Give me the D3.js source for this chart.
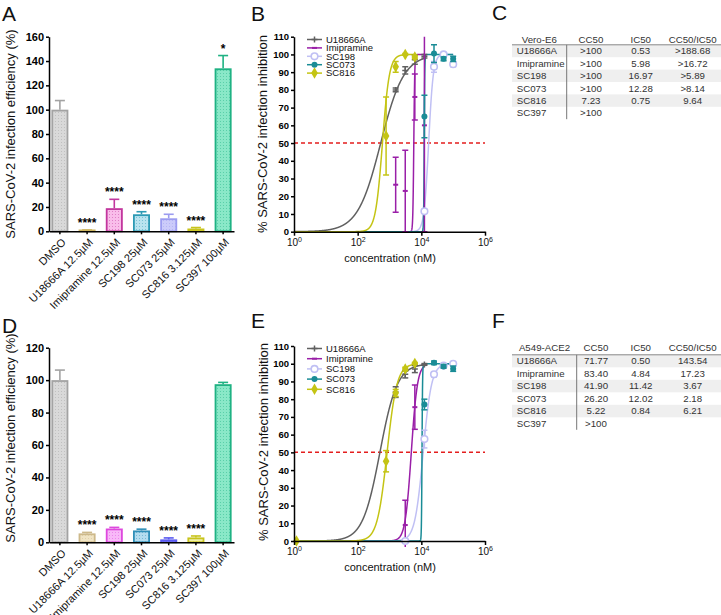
<!DOCTYPE html>
<html><head><meta charset="utf-8">
<script src="https://cdn.jsdelivr.net/npm/d3@7"></script>
<style>body{margin:0;background:#fff} svg, svg text{font-family:"Liberation Sans",Arial,sans-serif}</style>
</head><body><svg id="c" width="721" height="615"></svg>
<script>
// ---------- DATA ----------
const barCategories = ["DMSO","U18666A 12.5µM","Imipramine 12.5µM","SC198 25µM","SC073 25µM","SC816 3.125µM","SC397 100µM"];
const veroValues = [100, 0.8, 19, 14, 10.7, 2.3, 134];
const veroErrors = [7.5, 0.3, 7.3, 2.1, 3.3, 0.8, 10.5];
const veroStars  = ["", "****", "****", "****", "****", "****", "*"];
const a549Values = [100, 5.5, 8.5, 7.3, 1.8, 3.0, 97.5];
const a549Errors = [6.2, 0.6, 0.7, 0.8, 0.9, 0.9, 1.1];
const a549Stars  = ["", "****", "****", "****", "****", "****", ""];
const ticksA = [0,20,40,60,80,100,120,140,160];
const ticksD = [0,20,40,60,80,100,120];

const compounds = ["U18666A","Imipramine","SC198","SC073","SC816"];
const concentrations = [1.2, 781.25, 1562.5, 3125, 6250, 12500, 25000, 50000, 100000];
// Vero-E6 dose response (panel B)
const veroU18666A   = [null, null, 80, 91, 97, 99, null, null, null];
const veroU18666AErr= [0, 0, 1, 2, 2.5, 1, 0, 0, 0];
const veroImip      = [null, null, 26.5, 23, 76, 60, null, null, null];
const veroImipErr   = [0, 0, 15.5, 23, 13, 60, 0, 0, 0];
const veroSC198     = [null, null, null, null, null, 11.5, 93, 100, 94.5];
const veroSC198Err  = [0, 0, 0, 0, 0, 1, 3, 1, 1.5];
const veroSC073     = [null, null, null, null, null, 65, 100.5, 97.5, 97.5];
const veroSC073Err  = [0, 0, 0, 0, 0, 12, 5, 1, 1.5];
const veroSC816     = [null, 54, 93, 100, 98.5, null, null, null, null];
const veroSC816Err  = [0, 22, 3, 0.5, 1, 0, 0, 0, 0];
// A549-ACE2 dose response (panel E)
const a549U18666A   = [null, null, 84, 94, 97, 99.6, null, null, null];
const a549U18666AErr= [0, 0, 3, 2, 2, 0.5, 0, 0, 0];
const a549Imip      = [null, null, null, 9, 75.5, null, null, null, null];
const a549ImipErr   = [0, 0, 0, 14, 12.5, 0, 0, 0, 0];
const a549SC198     = [null, null, null, 0, null, 57.5, 94, 99, 100];
const a549SC198Err  = [0, 0, 0, 0.5, 0, 5, 1.5, 1, 0.5];
const a549SC073     = [null, null, null, null, null, 77, 100.5, 98.5, 97.2];
const a549SC073Err  = [0, 0, 0, 0, 0, 3, 1, 1, 1.5];
const a549SC816     = [0, 45, 83.5, 97, 100.2, null, null, null, null];
const a549SC816Err  = [0, 6, 2, 1, 0.5, 0, 0, 0, 0];
// fitted curve parameters (nM)
const veroFitIC50 = [530, 5800, 16970, 12300, 600];
const veroFitHill = [1.2, 30, 6, 50, 4];
const veroFitEnd  = [12500, 12500, 100000, 100000, 6250];
const a549FitIC50 = [500, 4840, 11420, 10500, 840];
const a549FitHill = [1.6, 4.5, 3.3, 50, 2.8];
const a549FitEnd  = [12500, 12500, 100000, 100000, 6250];
const logTicks = [1, 100, 10000, 1000000];
const inhibitionTicks = [0,10,20,30,40,50,60,70,80,90,100,110];

// tables
const tableRows = ["U18666A","Imipramine","SC198","SC073","SC816","SC397"];
const tableCols = ["CC50","IC50","CC50/IC50"];
const veroCC50 = [">100",">100",">100",">100","7.23",">100"];
const veroIC50 = ["0.53","5.98","16.97","12.28","0.75",""];
const veroSI   = [">188.68",">16.72",">5.89",">8.14","9.64",""];
const a549CC50 = ["71.77","83.40","41.90","26.20","5.22",">100"];
const a549IC50 = ["0.50","4.84","11.42","12.02","0.84",""];
const a549SI   = ["143.54","17.23","3.67","2.18","6.21",""];

// ---------- STYLE ----------
const FONT = "Liberation Sans, Arial, sans-serif";
const strokeA = ["#a3a3a3","#cdb560","#c2369e","#2c9ab4","#9c9cf0","#c8c41c","#1fb283"];
const fillA   = ["#d9d9d9","#eadc9a","#f9bdea","#b9e3ef","#cbcbfa","#ecec96","#8ae8c8"];
const strokeD = ["#a3a3a3","#cdb98a","#de48de","#2f8fb8","#5a5af0","#c8c41c","#1fb283"];
const fillD   = ["#d9d9d9","#f0e4c4","#f8b8f8","#b3dcef","#a6a6fa","#f0f0a8","#8ae8c8"];
const curveColors = ["#606060","#9a1fa8","#c0c0f4","#1a8c96","#c4c414"];

const svg = d3.select("#c");
const defs = svg.append("defs");

function barPanel(id, top, bottom, maxV, ticks, values, errors, stars, fills, strokes){
  const x = d3.scaleBand().domain(barCategories).range([49, 234]).paddingInner(0.375).paddingOuter(0.0875);
  const y = d3.scaleLinear().domain([0, maxV]).range([bottom, top]);
  const g = svg.append("g");
  barCategories.forEach((c,i)=>{
    const p = defs.append("pattern").attr("id", id+"p"+i).attr("patternUnits","userSpaceOnUse").attr("width",3).attr("height",3);
    p.append("rect").attr("width",3).attr("height",3).attr("fill",fills[i]);
    p.append("rect").attr("x",1).attr("y",1).attr("width",1).attr("height",1).attr("fill",strokes[i]).attr("opacity",0.45);
  });
  const bw = x.bandwidth();
  g.selectAll("g.err").data(values).join("g").each(function(v,i){
    const cx = x(barCategories[i]) + bw/2;
    const s = d3.select(this);
    s.append("line").attr("x1",cx).attr("x2",cx).attr("y1",y(v)).attr("y2",y(v+errors[i])).attr("stroke",strokes[i]).attr("stroke-width",1.6);
    s.append("line").attr("x1",cx-5).attr("x2",cx+5).attr("y1",y(v+errors[i])).attr("y2",y(v+errors[i])).attr("stroke",strokes[i]).attr("stroke-width",1.6);
  });
  g.selectAll("rect.bar").data(values).join("rect")
    .attr("x",(v,i)=>x(barCategories[i])+0.9)
    .attr("width",bw-1.8)
    .attr("y",v=>Math.min(y(v)+0.9, bottom-0.9))
    .attr("height",v=>Math.max(0.9, bottom - y(v) - 0.9))
    .attr("fill",(v,i)=>`url(#${id}p${i})`)
    .attr("stroke",(v,i)=>strokes[i]).attr("stroke-width",1.8);
  g.selectAll("text.star").data(values).join("text")
    .attr("x",(v,i)=>x(barCategories[i])+bw/2)
    .attr("y",(v,i)=>y(v+errors[i])-3)
    .attr("text-anchor","middle").attr("font-size",12).attr("font-weight","bold").attr("font-family",FONT)
    .text((v,i)=>stars[i]);
  const ya = g.append("g").attr("transform","translate(49,0)")
    .call(d3.axisLeft(y).tickValues(ticks).tickSize(3).tickPadding(2).tickSizeOuter(0));
  ya.selectAll("text").attr("font-size",11).attr("font-weight","bold").attr("font-family",FONT).attr("fill","#000");
  ya.selectAll("line,path").attr("stroke","#000").attr("stroke-width",1.5);
  const xa = g.append("g").attr("transform",`translate(0,${bottom})`)
    .call(d3.axisBottom(x).tickSize(3).tickSizeOuter(0));
  xa.selectAll("line,path").attr("stroke","#000").attr("stroke-width",1.5);
  xa.selectAll("text").attr("font-size",11).attr("font-family",FONT).attr("fill","#111")
    .attr("text-anchor","end").attr("y",0).attr("dy","0.35em")
    .attr("transform","translate(4,9) rotate(-45)");
}

function curvePanel(id, top, bottom, series, errs, ic50, hill, ends, legendTop, legendStep){
  const x = d3.scaleLog().domain([1, 1e6]).range([294, 485]);
  const y = d3.scaleLinear().domain([0, 110]).range([bottom, top]);
  const g = svg.append("g");
  defs.append("clipPath").attr("id", id+"clip").append("rect")
    .attr("x", 290).attr("y", top).attr("width", 200).attr("height", bottom-top+6);
  const plot = g.append("g").attr("clip-path", `url(#${id}clip)`);
  plot.append("line").attr("x1",x(1)).attr("x2",x(1e6)).attr("y1",y(50)).attr("y2",y(50))
    .attr("stroke","#e41e1e").attr("stroke-width",1.5).attr("stroke-dasharray","4,3");
  const line = d3.line().x(d=>x(d[0])).y(d=>y(d[1]));
  compounds.forEach((c,i)=>{
    const pts = d3.range(0, Math.log10(ends[i])+1e-9, 0.004).map(l=>{
      const cc = Math.pow(10,l); return [cc, 100/(1+Math.pow(ic50[i]/cc, hill[i]))];
    });
    plot.append("path").datum(pts).attr("d",line).attr("fill","none")
      .attr("stroke",curveColors[i]).attr("stroke-width",1.5);
  });
  compounds.forEach((c,i)=>{
    const data = concentrations.map((cc,k)=>({c:cc, v:series[i][k], e:errs[i][k]})).filter(d=>d.v!==null);
    const sg = plot.append("g");
    data.forEach(d=>{
      if(d.e>0){
        const cx = x(d.c);
        sg.append("line").attr("x1",cx).attr("x2",cx).attr("y1",y(d.v-d.e)).attr("y2",y(d.v+d.e)).attr("stroke",curveColors[i]).attr("stroke-width",1.5);
        [d.v-d.e, d.v+d.e].forEach(v=>sg.append("line").attr("x1",cx-3).attr("x2",cx+3).attr("y1",y(v)).attr("y2",y(v)).attr("stroke",curveColors[i]).attr("stroke-width",1.5));
      }
      drawMarker(sg, i, x(d.c), y(d.v));
    });
  });
  const ya = g.append("g").attr("transform","translate(294,0)")
    .call(d3.axisLeft(y).tickValues(inhibitionTicks).tickSize(3).tickPadding(2).tickSizeOuter(0));
  ya.selectAll("text").attr("font-size",9.5).attr("font-weight","bold").attr("font-family",FONT).attr("fill","#000");
  ya.selectAll("line,path").attr("stroke","#000").attr("stroke-width",1.5);
  const xa = g.append("g").attr("transform",`translate(0,${bottom})`)
    .call(d3.axisBottom(x).tickValues(logTicks).tickSize(4).tickPadding(3).tickSizeOuter(0).tickFormat(""));
  xa.selectAll("line,path").attr("stroke","#000").attr("stroke-width",1.5);
  xa.selectAll(".tick").each(function(d){
    const t = d3.select(this).append("text").attr("y",7).attr("dy","0.71em").attr("font-size",10)
      .attr("font-family",FONT).attr("fill","#111").attr("text-anchor","middle");
    t.append("tspan").text("10");
    t.append("tspan").attr("dy","-4").attr("font-size",7).text(Math.round(Math.log10(d)));
  });
  g.append("text").attr("x",390).attr("y",bottom+30).attr("text-anchor","middle").attr("font-family",FONT)
    .attr("font-size",11).attr("fill","#111").text("concentration (nM)");
  compounds.forEach((c,i)=>{
    const ly = legendTop + i*legendStep;
    g.append("line").attr("x1",307).attr("x2",322).attr("y1",ly).attr("y2",ly).attr("stroke",curveColors[i]).attr("stroke-width",1.5);
    drawMarker(g, i, 314.5, ly);
    g.append("text").attr("x",326).attr("y",ly).attr("dy","0.35em").attr("font-size",9.5).attr("font-family",FONT).attr("fill","#111").text(c);
  });
}

function drawMarker(sel, i, cx, cy){
  const col = curveColors[i];
  if(i===0){
    sel.append("path").attr("d",`M${cx-3},${cy}H${cx+3}M${cx},${cy-3}V${cy+3}`).attr("stroke",col).attr("stroke-width",1.5);
  } else if(i===1){
    sel.append("rect").attr("x",cx-2.5).attr("y",cy-1).attr("width",5).attr("height",2).attr("fill",col);
  } else if(i===2){
    sel.append("circle").attr("cx",cx).attr("cy",cy).attr("r",3.3).attr("fill","#fff").attr("stroke",col).attr("stroke-width",1.6);
  } else if(i===3){
    sel.append("circle").attr("cx",cx).attr("cy",cy).attr("r",3).attr("fill",col);
  } else {
    sel.append("path").attr("d",d3.symbol(d3.symbolDiamond,38)()).attr("transform",`translate(${cx},${cy})`).attr("fill",col);
  }
}

function tablePanel(title, titleX, headerY, lineY, rowH, vx, colX, cols){
  const g = svg.append("g").attr("font-size",9.7).attr("font-family",FONT).attr("fill","#333");
  tableRows.forEach((r,i)=>{
    if(i%2===0) g.append("rect").attr("x",512).attr("y",lineY+i*rowH).attr("width",209).attr("height",rowH).attr("fill","#efefef");
  });
  g.append("line").attr("x1",512).attr("x2",721).attr("y1",lineY).attr("y2",lineY).attr("stroke","#888").attr("stroke-width",1);
  g.append("line").attr("x1",vx).attr("x2",vx).attr("y1",lineY).attr("y2",lineY+tableRows.length*rowH).attr("stroke","#777").attr("stroke-width",1);
  g.append("text").attr("x",titleX).attr("y",headerY).attr("dy","0.35em").attr("text-anchor","middle").text(title);
  tableCols.forEach((c,j)=>g.append("text").attr("x",colX[j]).attr("y",headerY).attr("dy","0.35em").attr("text-anchor","middle").text(c));
  tableRows.forEach((r,i)=>{
    const cy = lineY + (i+0.5)*rowH;
    g.append("text").attr("x",516.7).attr("y",cy).attr("dy","0.35em").text(r);
    cols.forEach((arr,j)=>g.append("text").attr("x",colX[j]).attr("y",cy).attr("dy","0.35em").attr("text-anchor","middle").text(arr[i]));
  });
}

// ---------- DRAW ----------
barPanel("A", 36.7, 231.3, 160, ticksA, veroValues, veroErrors, veroStars, fillA, strokeA);
barPanel("D", 347.7, 542.3, 120, ticksD, a549Values, a549Errors, a549Stars, fillD, strokeD);
function yTitle(x, y, txt){
  svg.append("text").attr("transform",`translate(${x},${y}) rotate(-90)`).attr("text-anchor","middle")
    .attr("font-size",13).attr("font-family",FONT).attr("fill","#111").text(txt);
}
yTitle(15, 134, "SARS-CoV-2 infection efficiency (%)");
yTitle(15, 438, "SARS-CoV-2 infection efficiency (%)");

curvePanel("B", 36.7, 231.7,
  [veroU18666A, veroImip, veroSC198, veroSC073, veroSC816],
  [veroU18666AErr, veroImipErr, veroSC198Err, veroSC073Err, veroSC816Err],
  veroFitIC50, veroFitHill, veroFitEnd, 39.5, 8.4);
curvePanel("E", 346, 541,
  [a549U18666A, a549Imip, a549SC198, a549SC073, a549SC816],
  [a549U18666AErr, a549ImipErr, a549SC198Err, a549SC073Err, a549SC816Err],
  a549FitIC50, a549FitHill, a549FitEnd, 348.5, 10.2);
yTitle(267, 134, "% SARS-CoV-2 infection inhibition");
yTitle(268, 442, "% SARS-CoV-2 infection inhibition");

tablePanel("Vero-E6", 539.3, 39.3, 44.8, 12.4, 566.7, [591, 640.7, 692.7], [veroCC50, veroIC50, veroSI]);
tablePanel("A549-ACE2", 544.5, 347.7, 354.8, 12.5, 576.7, [596, 640.7, 692.7], [a549CC50, a549IC50, a549SI]);

[["A",2,21],["B",251,21],["C",492,20],["D",2,333],["E",251,328],["F",492,328]].forEach(l=>
  svg.append("text").attr("x",l[1]).attr("y",l[2]).attr("font-size",21).attr("font-family",FONT).attr("fill","#111").text(l[0]));
</script></body></html>
